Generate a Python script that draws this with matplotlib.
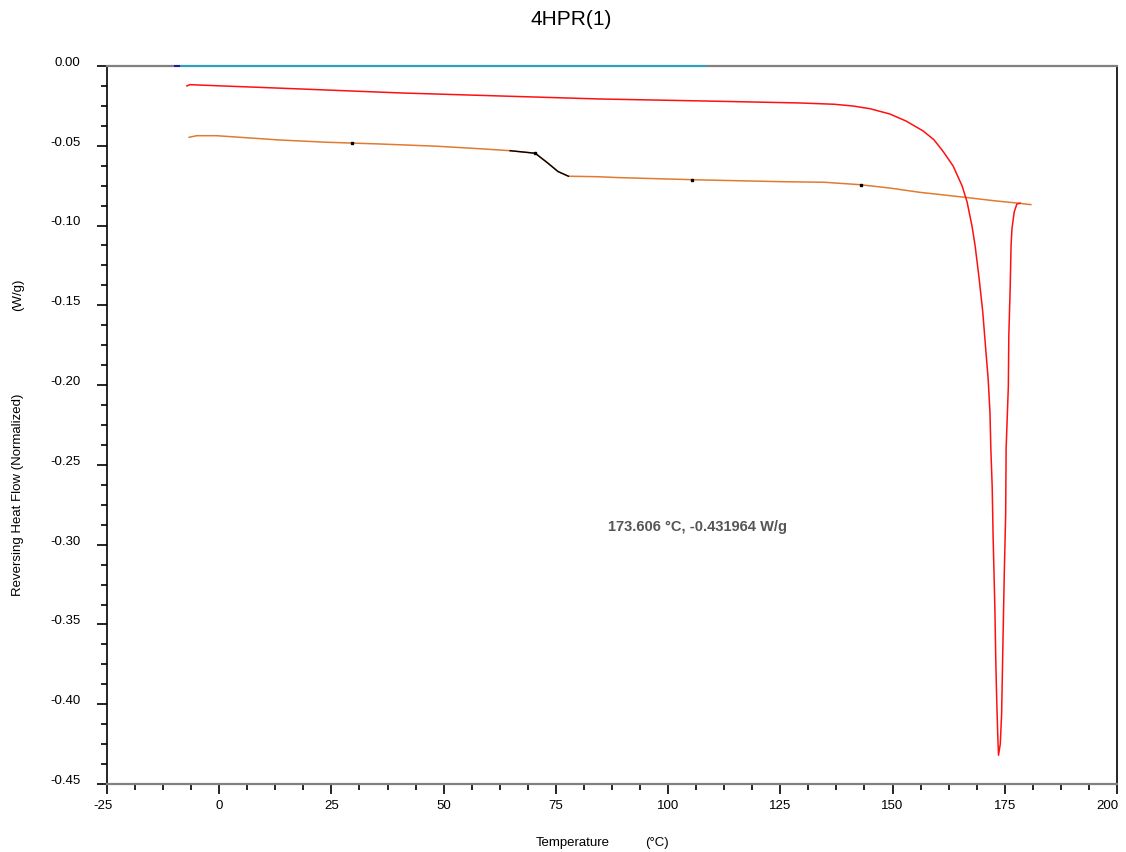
import numpy as np
import matplotlib
matplotlib.use("Agg")
import matplotlib.pyplot as plt
import matplotlib.transforms as mtransforms
from matplotlib.ticker import MultipleLocator, AutoMinorLocator, FormatStrFormatter, FuncFormatter

plt.rcParams['font.family'] = ['Liberation Sans', 'DejaVu Sans']
plt.rcParams['axes.unicode_minus'] = False

# --- data ---
# reversing heat flow, red trace (melting endotherm)
red_temp = [-7.2, -6.5, -5.0, 18.0, 40.3, 62.5, 84.8, 107.1, 129.4, 137.0,
            141.2, 145.0, 149.4, 153.0, 156.8, 159.2, 161.2, 163.5, 165.5,
            166.6, 167.7, 168.4, 169.3, 170.1, 170.7, 171.3, 171.7, 171.9,
            172.2, 172.4, 172.8, 173.0, 173.2, 173.45, 173.606, 174.0, 174.3,
            174.6, 174.9, 175.2, 175.3, 175.8, 175.9, 176.2, 176.4, 176.6,
            177.1, 177.7, 178.4]
red_flow = [-0.0125, -0.0117, -0.0119, -0.0144, -0.0169, -0.0188, -0.0207,
            -0.0219, -0.0232, -0.0240, -0.0251, -0.0268, -0.0301, -0.0345,
            -0.0407, -0.0462, -0.0533, -0.0627, -0.0752, -0.0852, -0.1003,
            -0.1128, -0.1335, -0.1542, -0.1755, -0.1962, -0.2168, -0.2400,
            -0.2639, -0.2946, -0.3403, -0.3729, -0.3967, -0.4205, -0.431964,
            -0.4249, -0.4061, -0.3604, -0.3171, -0.2808, -0.2400, -0.2005,
            -0.1692, -0.1398, -0.1128, -0.1022, -0.0915, -0.0865, -0.0860]

# orange trace (glass transition step)
orange_temp = [-6.7, -5.0, -0.6, 4.6, 13.5, 23.9, 35.8, 48.5, 58.8, 64.8,
               70.4, 73.0, 75.5, 77.8, 84.1, 89.3, 107.1, 124.9, 134.9, 142.7,
               149.4, 156.1, 166.1, 172.4, 177.7, 180.8]
orange_flow = [-0.0447, -0.0437, -0.0437, -0.0447, -0.0464, -0.0478, -0.0489,
               -0.0503, -0.0520, -0.0531, -0.0547, -0.0604, -0.0662, -0.0691,
               -0.0694, -0.0700, -0.0714, -0.0725, -0.0729, -0.0744, -0.0765,
               -0.0792, -0.0823, -0.0844, -0.0859, -0.0869]
step_range = [64.8, 77.8]            # highlighted Tg step
marker_temps = [29.6, 70.4, 105.3, 142.9]

# baseline trace sitting on 0.00
blue_temp = [-9.9, -8.4]
blue_flow = [0.0, 0.0]
teal_temp = [-8.4, 108.2]
teal_flow = [0.0, 0.0]

x_min, x_max = -25, 200
peak_label = "173.606 °C, -0.431964 W/g"

fig = plt.figure(figsize=(11.26, 8.53), dpi=100)
ax = fig.add_axes([0.0950, 0.0797, 0.8970, 0.8418])

ax.plot(red_temp, red_flow, color='#ff1010', linewidth=1.1, zorder=3)
ax.plot(orange_temp, orange_flow, color='#e27a30', linewidth=1.1, zorder=2)

ot = np.array(orange_temp)
of = np.array(orange_flow)
sel = (ot >= step_range[0]) & (ot <= step_range[1])
ax.plot(ot[sel], of[sel], color='black', linewidth=1.0, zorder=2.5)
ax.plot(marker_temps, np.interp(marker_temps, ot, of), 's', color='black',
        markersize=1.8, zorder=2.6)

ax.plot(blue_temp, blue_flow, color='#1a1aa0', linewidth=1.4, zorder=4, clip_on=False)
ax.plot(teal_temp, teal_flow, color='#2aa3c4', linewidth=1.4, zorder=4, clip_on=False)

ax.text(106.5, -0.2883, peak_label, ha='center', va='center', fontsize=10.5,
        fontweight='bold', color='#555555')

ax.set_xlim(x_min, x_max)
ax.set_ylim(-0.45, 0.0)
ax.xaxis.set_major_locator(MultipleLocator(25))
ax.xaxis.set_minor_locator(AutoMinorLocator(4))
ax.yaxis.set_major_locator(MultipleLocator(0.05))
ax.yaxis.set_minor_locator(AutoMinorLocator(4))
ax.yaxis.set_major_formatter(FormatStrFormatter('%.2f'))
# the two edge labels are drawn separately, nudged inward
ax.xaxis.set_major_formatter(FuncFormatter(
    lambda v, p: '' if v in (x_min, x_max) else f'{v:.0f}'))

ax.tick_params(axis='both', which='both', direction='out', top=False, right=False,
               labelsize=9.5, colors='black')
ax.tick_params(axis='both', which='major', length=7, width=1.2)
ax.tick_params(axis='both', which='minor', length=4, width=1.2)
ax.tick_params(axis='y', which='major', pad=12)
ax.tick_params(axis='x', which='major', pad=4)

for val, dx in [(x_min, -3), (x_max, -7)]:
    ax.annotate(f'{val}', xy=(val, 0), xycoords=('data', 'axes fraction'),
                xytext=(dx, -10.7), textcoords='offset points',
                ha='center', va='top', fontsize=9.5)

# y labels sit a little above their ticks
offset = mtransforms.ScaledTranslation(0, 4 / 72, fig.dpi_scale_trans)
for lbl in ax.get_yticklabels():
    lbl.set_transform(lbl.get_transform() + offset)

for side in ['left', 'right']:
    ax.spines[side].set_color('black')
    ax.spines[side].set_linewidth(1.2)
for side in ['top', 'bottom']:
    ax.spines[side].set_color('#808080')
    ax.spines[side].set_linewidth(1.6)

fig.text(0.507, 0.9766, '4HPR(1)', ha='center', va='center', fontsize=15)
fig.text(0.016, 0.42, 'Reversing Heat Flow (Normalized)', rotation=90,
         ha='center', va='center', fontsize=9.5)
fig.text(0.016, 0.654, '(W/g)', rotation=90, ha='center', va='center', fontsize=9.5)
fig.text(0.5087, 0.0117, 'Temperature', ha='center', va='center', fontsize=9.5)
fig.text(0.5835, 0.0117, '(°C)', ha='center', va='center', fontsize=9.5)

fig.savefig('out.png', dpi=100)
